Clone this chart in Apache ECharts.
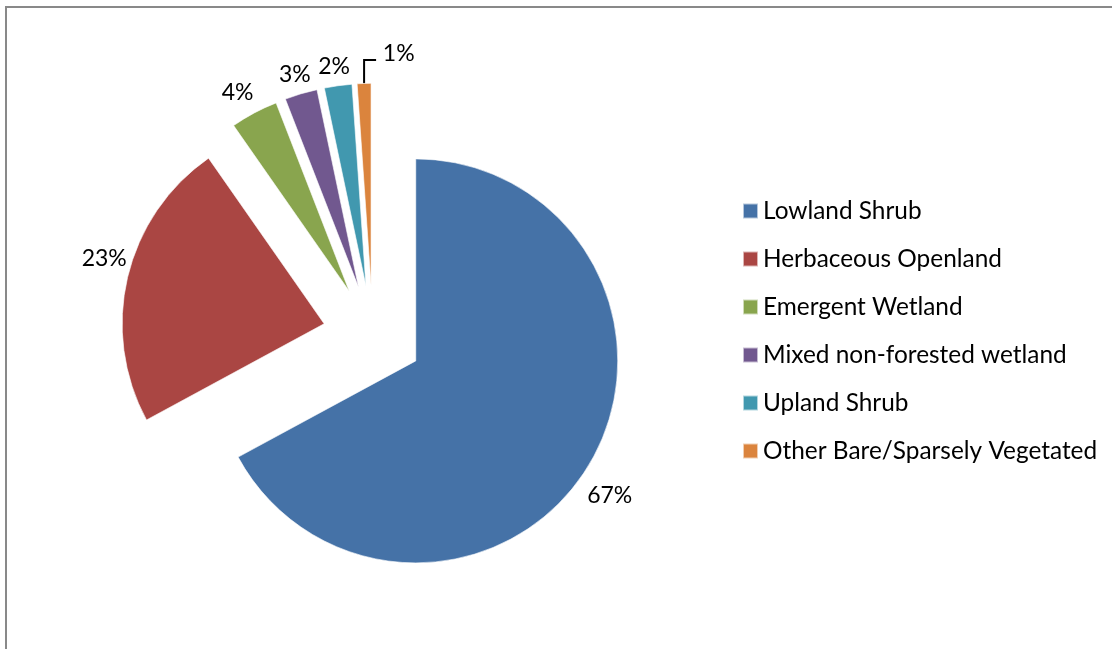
<!DOCTYPE html>
<html>
<head>
<meta charset="utf-8">
<script src="https://cdn.jsdelivr.net/npm/echarts@6/dist/echarts.min.js"></script>
<style>
  html, body { margin: 0; padding: 0; background: #fff; }
  #chart { width: 1112px; height: 649px; }
</style>
</head>
<body>
<div id="chart"></div>
<script>
// ---- data ----
const categories = ['Lowland Shrub', 'Herbaceous Openland', 'Emergent Wetland',
  'Mixed non-forested wetland', 'Upland Shrub', 'Other Bare/Sparsely Vegetated'];
const values = [67.1, 23.2, 3.8, 2.6, 2.2, 1.1];
const colors = ['#4572A7', '#AA4643', '#89A54E', '#71588F', '#4198AF', '#DB843D'];

// label nudges (style only)
const labelNudge = [[-14, 27], [12, -17], [8, -13], [17, -12], [18, -11], [24, -21.5]];

const chart = echarts.init(document.getElementById('chart'), null, { renderer: 'canvas' });

const FONT = 'Lato';

const data = categories.map((name, i) => ({
  name: name,
  value: values[i],
  selected: true,
  itemStyle: { color: colors[i] },
  labelLine: { show: i === 5 }
}));

chart.setOption({
  animation: false,
  backgroundColor: '#fff',
  graphic: [{
    type: 'rect',
    shape: { x: 6, y: 7, width: 1300, height: 800 },
    style: { fill: 'none', stroke: '#898989', lineWidth: 2 },
    silent: true
  }],
  legend: {
    orient: 'vertical',
    left: 742,
    top: 199,
    padding: 0,
    icon: 'rect',
    itemWidth: 15,
    itemHeight: 15,
    itemGap: 24,
    data: categories,
    textStyle: { fontFamily: FONT, fontSize: 24.4, color: '#000', lineHeight: 24 },
    selectedMode: false
  },
  series: [{
    type: 'pie',
    center: [372.8, 335.3],
    radius: 202,
    startAngle: 90,
    clockwise: true,
    selectedMode: 'multiple',
    selectedOffset: 50,
    avoidLabelOverlap: false,
    silent: true,
    emphasis: { disabled: true },
    itemStyle: { borderColor: 'rgba(255,255,255,0.6)', borderWidth: 1 },
    label: {
      show: true,
      position: 'outside',
      fontFamily: FONT,
      fontSize: 23,
      color: '#000',
      distanceToLabelLine: 5,
      formatter: p => Math.round(p.percent) + '%'
    },
    labelLine: {
      show: false,
      length: 8,
      length2: 0,
      lineStyle: { color: '#000', width: 2 }
    },
    labelLayout: function (params) {
      const i = params.dataIndex;
      const out = { dx: labelNudge[i][0], dy: labelNudge[i][1] };
      if (i === 5 && params.labelLinePoints) {
        const p0 = params.labelLinePoints[0];
        out.align = 'left';
        out.labelLinePoints = [[p0[0], p0[1]], [p0[0], p0[1] - 23.5], [p0[0] + 12, p0[1] - 23.5]];
      }
      return out;
    },
    data: data
  }]
});
</script>
</body>
</html>
